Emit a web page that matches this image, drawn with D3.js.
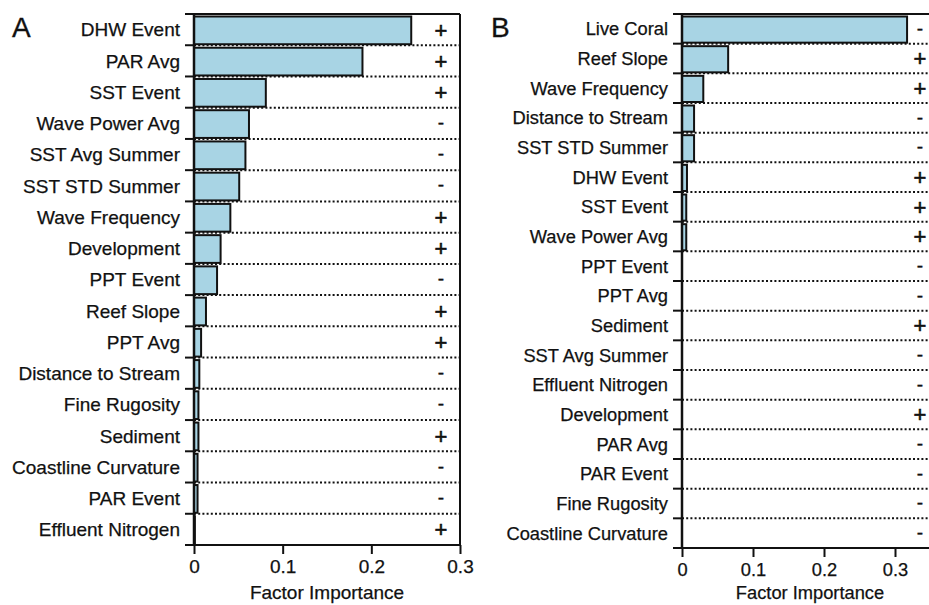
<!DOCTYPE html>
<html><head><meta charset="utf-8">
<script src="https://cdn.jsdelivr.net/npm/d3@7"></script>
<style>
body{margin:0;background:#fff;}
svg text{font-family:"Liberation Sans",Arial,Helvetica,sans-serif;fill:#111;stroke:#111;stroke-width:0.25px;}
</style></head>
<body><svg id="c" width="929" height="605"></svg>
<script>
const catsA = ["DHW Event","PAR Avg","SST Event","Wave Power Avg","SST Avg Summer","SST STD Summer","Wave Frequency","Development","PPT Event","Reef Slope","PPT Avg","Distance to Stream","Fine Rugosity","Sediment","Coastline Curvature","PAR Event","Effluent Nitrogen"];
const valsA = [0.245,0.190,0.081,0.062,0.058,0.051,0.041,0.030,0.026,0.0135,0.008,0.006,0.005,0.005,0.004,0.004,0.001];
const signsA = ["+","+","+","-","-","-","+","+","-","+","+","-","-","+","-","-","+"];

const catsB = ["Live Coral","Reef Slope","Wave Frequency","Distance to Stream","SST STD Summer","DHW Event","SST Event","Wave Power Avg","PPT Event","PPT Avg","Sediment","SST Avg Summer","Effluent Nitrogen","Development","PAR Avg","PAR Event","Fine Rugosity","Coastline Curvature"];
const valsB = [0.317,0.065,0.030,0.017,0.017,0.007,0.006,0.006,0,0,0,0,0,0,0,0,0,0];
const signsB = ["-","+","+","-","-","+","+","+","-","-","+","-","-","+","-","-","-","-"];

const xTicks = [0,0.1,0.2,0.3];
const xTitle = "Factor Importance";

const svg = d3.select("#c");

function panel(o){
  const g = svg.append("g");
  const x = d3.scaleLinear().domain(o.domain).range([o.x0,o.x1]);
  const y = d3.scaleBand().domain(o.cats).range([o.y0,o.y1]).padding(0);
  const bw = y.bandwidth();
  const bounds = o.cats.map(c=>y(c)).concat([o.y1]);
  g.selectAll(".dot").data(bounds.slice(1,-1)).join("line")
    .attr("x1",o.x0).attr("x2",o.x1).attr("y1",d=>d).attr("y2",d=>d)
    .attr("stroke","#111").attr("stroke-width",2).attr("stroke-dasharray","2,2.2");
  g.selectAll(".bar").data(o.cats.map((c,i)=>({c,v:o.vals[i]})).filter(d=>d.v>0)).join("rect")
    .attr("x",o.x0).attr("y",d=>y(d.c)+2.5).attr("width",d=>x(d.v)-o.x0).attr("height",bw-3.5)
    .attr("fill","#a8d4e4").attr("stroke","#111").attr("stroke-width",2);
  g.selectAll(".lt").data(bounds).join("line")
    .attr("x1",o.x0-9).attr("x2",o.x0).attr("y1",d=>d).attr("y2",d=>d)
    .attr("stroke","#111").attr("stroke-width",2);
  g.append("line").attr("x1",o.x0).attr("x2",o.x1).attr("y1",o.y0).attr("y2",o.y0).attr("stroke","#111").attr("stroke-width",2);
  g.append("line").attr("x1",o.x1).attr("x2",o.x1).attr("y1",o.y0).attr("y2",o.y1).attr("stroke","#111").attr("stroke-width",2);
  g.append("line").attr("x1",o.x0).attr("x2",o.x0).attr("y1",o.y0).attr("y2",o.y1).attr("stroke","#111").attr("stroke-width",2.5);
  const ax = g.append("g").attr("transform",`translate(0,${o.y1})`)
    .call(d3.axisBottom(x).tickValues(xTicks).tickFormat(d=>d===0?"0":d3.format(".1f")(d)).tickSize(9).tickSizeOuter(0).tickPadding(6));
  ax.select(".domain").attr("stroke","#111").attr("stroke-width",2).attr("d",`M${o.x0-9},0H${o.x1}`);
  ax.selectAll(".tick line").attr("stroke","#111").attr("stroke-width",2);
  ax.selectAll(".tick text").attr("font-size",o.fs).attr("font-family","Liberation Sans, Arial, sans-serif").attr("fill","#111");
  g.selectAll(".lab").data(o.cats).join("text")
    .attr("x",o.labX).attr("y",d=>y(d)+bw/2).attr("dy","0.36em").attr("text-anchor","end")
    .attr("font-size",o.fs).text(d=>d);
  g.selectAll(".sg").data(o.cats).join("text")
    .attr("x",o.signX).attr("y",(d,i)=>y(d)+bw/2).attr("dy",(d,i)=>o.signs[i]==="+"?"0.36em":"0.3em").attr("text-anchor","middle")
    .attr("font-size",(d,i)=>o.signs[i]==="+"?22:19).style("stroke-width",(d,i)=>o.signs[i]==="+"?"0.6px":"0.4px").text((d,i)=>o.signs[i]);
  g.append("text").attr("x",o.titleX).attr("y",599).attr("text-anchor","middle").attr("font-size",o.fs).text(xTitle);
  g.append("text").attr("x",o.letterX).attr("y",37).attr("font-size",28).style("stroke-width","0.3px").text(o.letter);
}

panel({cats:catsA,vals:valsA,signs:signsA,domain:[0,0.3],x0:194,x1:460,y0:14,y1:545,labX:180,signX:441,fs:19,titleX:327,letterX:12,letter:"A"});
panel({cats:catsB,vals:valsB,signs:signsB,domain:[0,0.35],x0:682,x1:930.5,y0:14,y1:548,labX:668,signX:920,fs:18.3,titleX:810,letterX:491,letter:"B"});
</script></body></html>
